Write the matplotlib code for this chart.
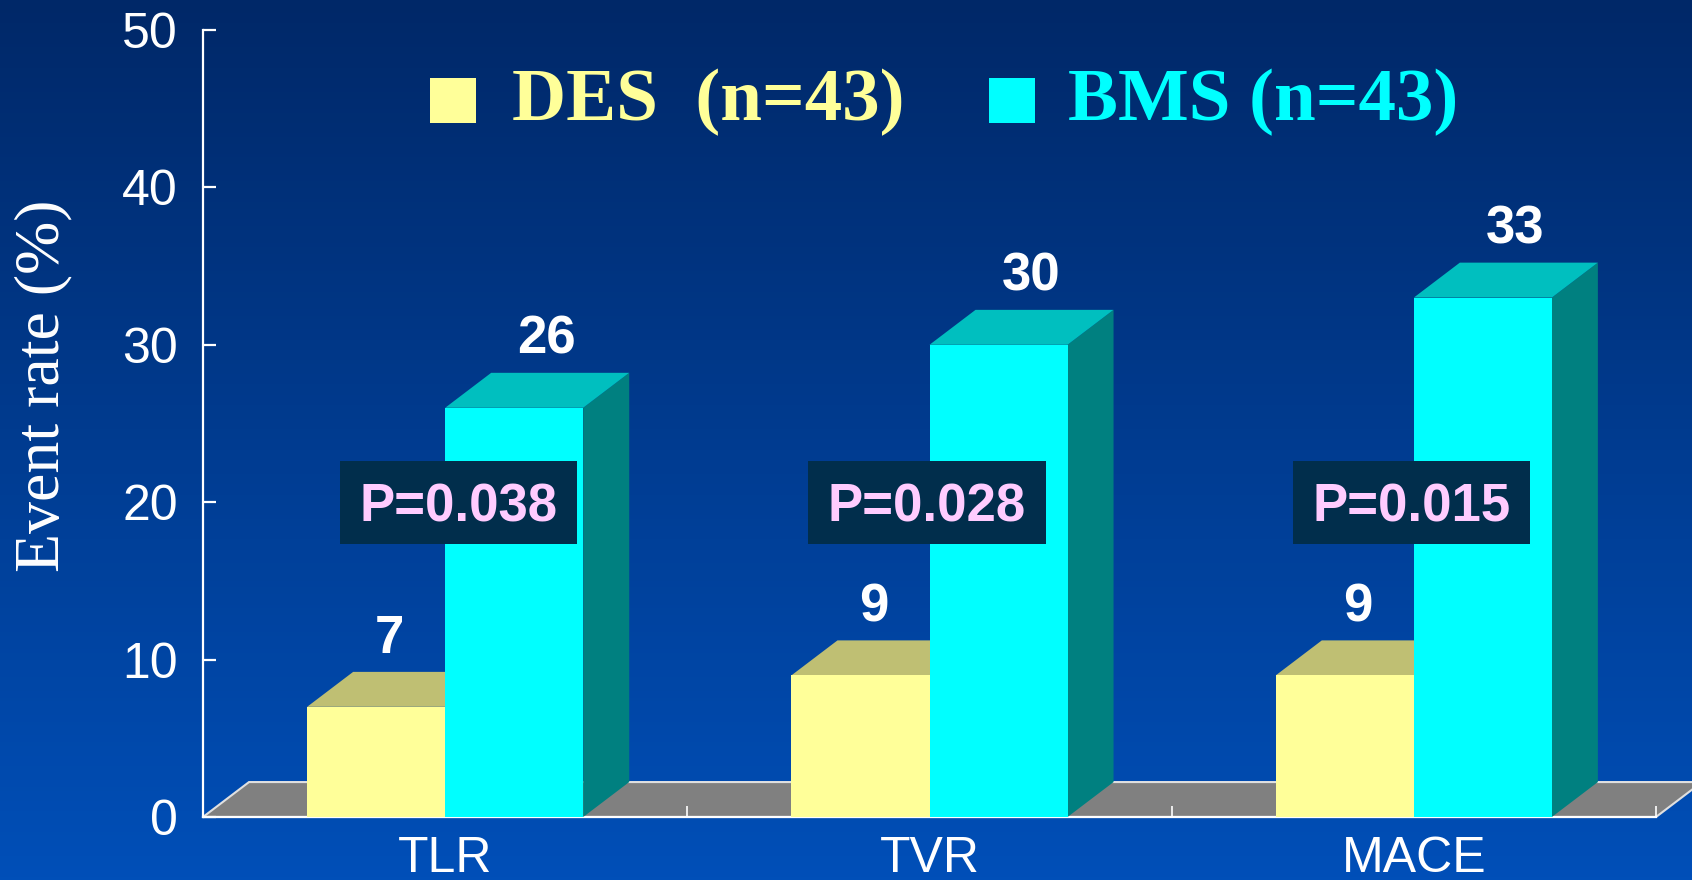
import matplotlib
matplotlib.use('Agg')

import numpy as np
import matplotlib.pyplot as plt
from matplotlib.patches import Polygon, Rectangle

# DATA
CATEGORIES = ["TLR", "TVR", "MACE"]
DES_RATES  = [7, 9, 9]
BMS_RATES  = [26, 30, 33]
P_VALUES   = ["0.038", "0.028", "0.015"]
LEGEND_LABELS = ["DES  (n=43)", "BMS (n=43)"]
Y_TICKS    = [0, 10, 20, 30, 40, 50]

# STYLE
SANS  = "Liberation Sans"
SERIF = "Liberation Serif"

DES_FRONT, DES_TOP, DES_SIDE = "#FFFF99", "#BFBF73", "#8C8C55"
BMS_FRONT, BMS_TOP, BMS_SIDE = "#00FFFF", "#00BFBF", "#008080"
FLOOR_COLOUR = "#808080"
PBOX_COLOUR  = "#012E4C"
PTEXT_COLOUR = "#FFCCFF"

BAR_W   = 0.285  # width of each bar, in category units
DEPTH_X = 0.095  # 3-D depth offset (x, data units)
DEPTH_Y = 2.22   # 3-D depth offset (y, data units)
LABEL_GAP = 1.2  # value label baseline above the back edge of the bar top


def draw_bar(ax, x0, width, value, front, top, side, z):
    x1 = x0 + width
    ax.add_patch(Polygon([(x1, 0), (x1 + DEPTH_X, DEPTH_Y),
                          (x1 + DEPTH_X, value + DEPTH_Y), (x1, value)],
                         closed=True, facecolor=side, edgecolor="none", zorder=z))
    ax.add_patch(Polygon([(x0, value), (x1, value),
                          (x1 + DEPTH_X, value + DEPTH_Y), (x0 + DEPTH_X, value + DEPTH_Y)],
                         closed=True, facecolor=top, edgecolor="none", zorder=z))
    ax.add_patch(Rectangle((x0, 0), width, value,
                           facecolor=front, edgecolor="none", zorder=z))


def main():
    fig = plt.figure(figsize=(16.92, 8.80), dpi=100)

    # background gradient
    bg = fig.add_axes([0, 0, 1, 1], zorder=-10)
    top_rgb = np.array([0x00, 0x28, 0x68]) / 255.0
    bot_rgb = np.array([0x00, 0x4F, 0xB8]) / 255.0
    t = np.linspace(0, 1, 256)[:, None]
    grad = top_rgb[None, :] * (1 - t) + bot_rgb[None, :] * t
    bg.imshow(grad[:, None, :], aspect="auto", extent=[0, 1, 0, 1])
    bg.set_axis_off()

    ax = fig.add_axes([203 / 1692, 1 - 817 / 880, 1453 / 1692, 787 / 880])
    ax.set_facecolor("none")
    ax.set_xlim(0, len(CATEGORIES))
    ax.set_ylim(0, 50)

    # floor
    n = len(CATEGORIES)
    ax.add_patch(Polygon([(0, 0), (n, 0), (n + DEPTH_X, DEPTH_Y), (DEPTH_X, DEPTH_Y)],
                         closed=True, facecolor=FLOOR_COLOUR, edgecolor="#E0E0E0",
                         linewidth=1.5, clip_on=False, zorder=1))

    for i, cat in enumerate(CATEGORIES):
        centre = i + 0.5
        draw_bar(ax, centre - BAR_W, BAR_W, DES_RATES[i], DES_FRONT, DES_TOP, DES_SIDE, 3)
        draw_bar(ax, centre, BAR_W, BMS_RATES[i], BMS_FRONT, BMS_TOP, BMS_SIDE, 4)

        for x0, v, nudge in ((centre - BAR_W, DES_RATES[i], -0.02),
                             (centre, BMS_RATES[i], 0.02)):
            ax.text(x0 + BAR_W / 2 + DEPTH_X / 2 + nudge, v + DEPTH_Y + LABEL_GAP, str(v),
                    ha="center", va="baseline", color="white",
                    fontsize=38, fontweight="bold", family=SANS, zorder=6)

    # p-value boxes
    box_centres = [0.528, 1.495, 2.495]
    box_w, box_h = 0.49, 5.27
    for xc, p in zip(box_centres, P_VALUES):
        ax.add_patch(Rectangle((xc - box_w / 2, 20 - box_h / 2), box_w, box_h,
                               facecolor=PBOX_COLOUR, edgecolor="none", zorder=8))
        ax.text(xc, 20, f"P={p}", ha="center", va="center_baseline",
                color=PTEXT_COLOUR, fontsize=38, fontweight="bold",
                family=SANS, zorder=9)

    # axes styling
    for s in ("top", "right"):
        ax.spines[s].set_visible(False)
    for s in ("left", "bottom"):
        ax.spines[s].set_color("white")
        ax.spines[s].set_linewidth(1.6)
        ax.spines[s].set_zorder(2)

    ax.set_yticks(Y_TICKS)
    ax.set_yticklabels([str(v) for v in Y_TICKS], family=SANS, fontsize=36, color="white")
    ax.tick_params(axis="y", direction="in", length=9, width=1.6, color="white", pad=18)

    ax.set_xticks(range(n + 1))
    ax.set_xticklabels([])
    ax.tick_params(axis="x", which="major", direction="in", length=8, width=1.2, color="white")
    ax.set_xticks([i + 0.5 for i in range(n)], minor=True)
    ax.set_xticklabels(CATEGORIES, minor=True, family=SANS, fontsize=36, color="white")
    ax.tick_params(axis="x", which="minor", length=0, pad=14)

    fig.text(43 / 1692, 1 - 386 / 880, "Event rate (%)", rotation=90,
             ha="center", va="center", color="white", fontsize=46, family=SERIF)

    # legend
    legend_items = [(430, 512, DES_FRONT), (989, 1068, BMS_FRONT)]
    for (sq_x, txt_x, colour), label in zip(legend_items, LEGEND_LABELS):
        fig.patches.append(Rectangle((sq_x / 1692, 1 - 123 / 880), 46 / 1692, 45 / 880,
                                     transform=fig.transFigure, facecolor=colour,
                                     edgecolor="none"))
        fig.text(txt_x / 1692, 1 - 120 / 880, label, ha="left", va="baseline",
                 color=colour, fontsize=54, fontweight="bold", family=SERIF)

    fig.savefig("out.png", dpi=100)
    plt.close(fig)


if __name__ == "__main__":
    main()
